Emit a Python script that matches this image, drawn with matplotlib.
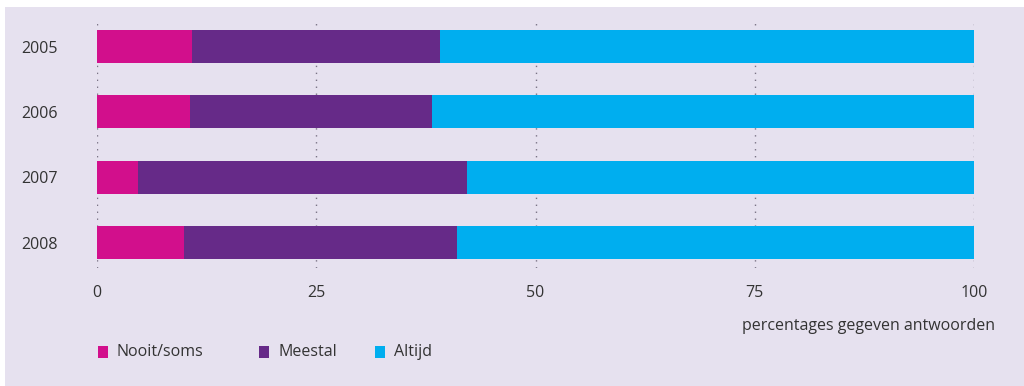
import matplotlib as mpl
mpl.use("Agg")
import matplotlib.pyplot as plt
from matplotlib.patches import Rectangle
from matplotlib import font_manager

years = ["2005", "2006", "2007", "2008"]
nooit_soms = [10.8, 10.6, 4.7, 9.9]
meestal = [28.3, 27.6, 37.5, 31.1]
altijd = [60.9, 61.8, 57.8, 59.0]
series_names = ["Nooit/soms", "Meestal", "Altijd"]
xticks = [0, 25, 50, 75, 100]

bg = "#E6E1EF"
colors = ["#D20F8C", "#662A88", "#00AEEF"]
txt = "#333333"

names = {f.name for f in font_manager.fontManager.ttflist}
fam = "Liberation Sans Narrow" if "Liberation Sans Narrow" in names else "Open Sans"
plt.rcParams["font.family"] = [fam, "DejaVu Sans"]
plt.rcParams["font.size"] = 11.5

W, H = 1024, 386
fig = plt.figure(figsize=(W / 100, H / 100), dpi=100)
fig.patch.set_facecolor("white")
fig.patches.append(Rectangle((5 / W, 0), 1 - 5 / W, 1 - 7 / H,
                             transform=fig.transFigure, facecolor=bg,
                             edgecolor="none", zorder=-10))

ax = fig.add_axes([97 / W, (H - 268) / H, (974 - 97) / W, 246 / H])
ax.set_facecolor("none")

pos = list(range(len(years)))
h = 0.505
left = [0] * len(years)
for vals, c, name in zip([nooit_soms, meestal, altijd], colors, series_names):
    ax.barh(pos, vals, left=left, height=h, color=c, label=name, zorder=3)
    left = [l + v for l, v in zip(left, vals)]

ax.set_xlim(0, 100)
ax.set_ylim(3.39, -0.375)
ax.set_xticks(xticks)
ax.set_xticklabels([str(t) for t in xticks])
ax.set_yticks(pos)
ax.set_yticklabels(years)
for x in xticks:
    ax.axvline(x, color="#7a7385", lw=1.0, linestyle=(0, (1, 4)), zorder=1)
ax.tick_params(length=0, colors=txt, labelsize=11.5)
ax.tick_params(axis="x", pad=12.5)
ax.tick_params(axis="y", pad=28)
for s in ax.spines.values():
    s.set_visible(False)

fig.text(995 / W, 1 - 326 / H, "percentages gegeven antwoorden",
         ha="right", va="center", color=txt, fontsize=11.5)

# legend, fixed positions as in the original layout
leg_x = [98, 259, 375]
leg_y = 352
for lx, c, name in zip(leg_x, colors, series_names):
    fig.patches.append(Rectangle((lx / W, 1 - (leg_y + 6) / H), 10 / W, 12 / H,
                                 transform=fig.transFigure, facecolor=c,
                                 edgecolor="none"))
    fig.text((lx + 19) / W, 1 - leg_y / H, name, ha="left", va="center",
             color=txt, fontsize=11.5)

plt.savefig("out.png", dpi=100, facecolor=fig.get_facecolor())
